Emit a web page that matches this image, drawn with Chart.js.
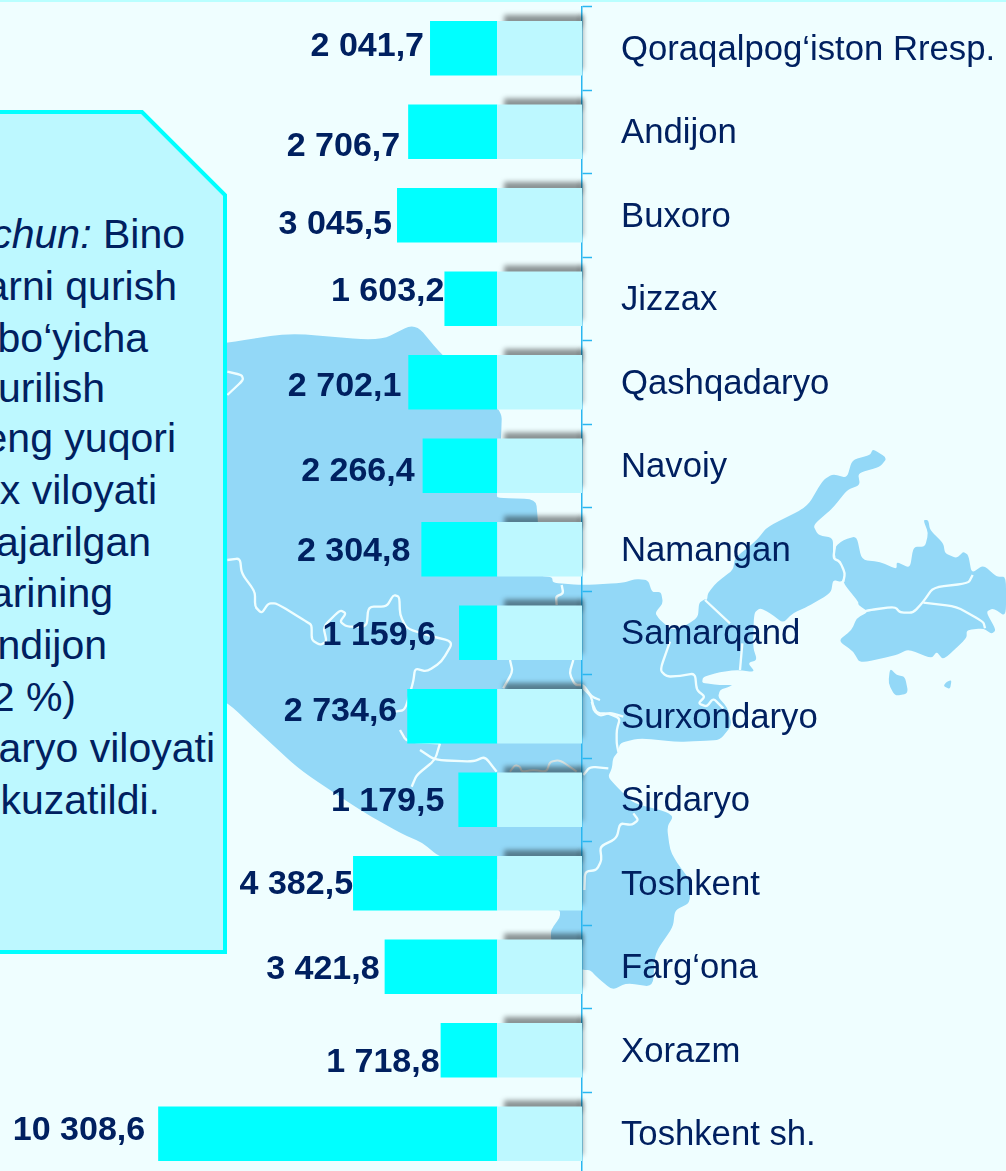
<!DOCTYPE html>
<html>
<head>
<meta charset="utf-8">
<style>
html,body{margin:0;padding:0;width:1006px;height:1171px;overflow:hidden;background:#EFFEFF;font-family:"Liberation Sans",Arial,sans-serif}
#topline{position:absolute;left:0;top:0;width:1006px;height:2px;background:#B9FFFF}
#map{position:absolute;left:0;top:0}
#note span.l{position:absolute;white-space:pre;font-size:41px;line-height:44px;color:#002060;transform:translateY(-50%)}
canvas{position:absolute;left:0;top:0}
</style>
<script src="https://cdn.jsdelivr.net/npm/chart.js@4"></script>
</head>
<body>
<div id="topline"></div>
<svg id="map" width="1006" height="1171" viewBox="0 0 1006 1171">
  <path class="s" fill="#93D8F7" d="M200,347 L225,343 L290,333 L380,341 L415,323 L442,355 L502,410 L501,440 L497,493 L497,498 L536,499 L538,522 L540,576 L552,577 L553,583 L583,585 L623,583 L635,579 L648,580 L652,592 L661,592 L663,603 L655,613 L660,620 L672,630 L687,625 L698,617 L699,603 L705,599 L707,600 L708,593 L717,582 L733,570 L735,558 L757,540 L767,527 L807,507 L823,480 L833,474 L847,478 L852,460 L870,455 L873,449 L887,458 L880,467 L858,473 L860,485 L847,490 L833,508 L813,525 L818,535 L833,538 L833,555 L840,562 L845,573 L842,582 L833,580 L831,593 L807,607 L793,613 L783,623 L770,613 L760,608 L754,613 L753,647 L757,660 L748,663 L755,672 L737,670 L720,672 L703,677 L702,683 L720,685 L733,685 L728,687 L720,690 L718,697 L727,707 L732,725 L720,740 L700,741 L677,742 L640,738 L620,743 L618,752 L613,758 L612,768 L608,777 L617,787 L633,803 L667,812 L673,817 L667,827 L670,850 L677,863 L690,880 L690,903 L675,910 L673,927 L655,953 L653,987 L627,983 L612,990 L597,977 L590,970 L583,970 L555,960 L551,939 L551,930 L560,917 L560,910 L500,880 L438,856 L423,843 L400,833 L360,810 L300,770 L262,735 L228,703 L200,690 Z"/>
  <g transform="translate(580,430) scale(0.33333)">
    <path class="s" fill="#93D8F7" d="M765,350 L790,330 L830,318 L845,390 L900,395 L950,418 L950,395 L990,415 L1000,350 L1035,350 L1045,310 L1030,270 L1045,270 L1050,300 L1090,340 L1095,370 L1130,385 L1150,365 L1165,375 L1175,430 L1210,405 L1250,440 L1278,440 L1278,560 L1240,535 L1218,545 L1248,600 L1235,612 L1210,595 L1160,600 L1160,625 L1090,690 L1070,665 L1055,685 L985,658 L950,675 L840,700 L820,665 L775,632 L815,600 L830,565 L865,545 L835,525 L835,515 L790,460 L795,430 L765,385 Z"/>
    <path class="s" fill="#93D8F7" d="M930,715 L950,735 L975,740 L985,790 L945,798 L925,760 Z"/>
    <path class="s" fill="#93D8F7" d="M1100,755 L1115,750 L1110,778 L1090,768 Z"/>
    <path class="s" fill="none" stroke="#EFFEFF" stroke-width="7" d="M765,345 L760,385 L780,395 L795,430 L790,455"/>
    <path class="s" fill="none" stroke="#EFFEFF" stroke-width="7" d="M1178,435 L1165,460 L1060,472 L1030,515 L1000,548 L960,548 L945,530 L870,540 L850,545"/>
    <path class="s" fill="none" stroke="#EFFEFF" stroke-width="7" d="M1030,518 L1130,530 L1210,575 L1215,595"/>
    <path fill="none" stroke="#EFFEFF" stroke-width="7" d="M375,510 L450,580 M480,720 L487,640"/>
    <path class="s" fill="none" stroke="#EFFEFF" stroke-width="7" d="M270,635 L240,720 L260,740 L300,738 L345,730 L350,780 L375,800 L355,820 L380,830 L400,805 L430,835"/>
    <path class="s" fill="none" stroke="#EFFEFF" stroke-width="7" d="M5,770 L35,800 L40,840 L60,858 L90,848 L130,860"/>
  </g>
  <g transform="translate(220,320) scale(0.33333)">
    <path class="s" fill="none" stroke="#EFFEFF" stroke-width="7" d="M22,155 L65,165 L70,180 L22,225"/>
    <path class="s" fill="none" stroke="#EFFEFF" stroke-width="7" d="M22,720 L60,715 L65,760 L105,815 L105,860 L125,880 L145,850 L170,850 L260,905 L275,915 L275,960 L300,975 L320,965 L310,920 L360,870 L378,880 L360,905 L380,920 L440,920 L445,860 L500,860 L520,825 L538,830 L540,885 L560,925 L620,945 L700,965 L665,1025 L620,1055 L585,1045 L580,1085 L555,1170 L525,1175"/>
    <path class="s" fill="none" stroke="#EFFEFF" stroke-width="7" d="M870,1020 L878,1055 L850,1105"/>
    <path class="s" fill="none" stroke="#EFFEFF" stroke-width="7" d="M1025,795 L1030,820 L1008,830 L1010,855"/>
    <path class="s" fill="none" stroke="#EFFEFF" stroke-width="7" d="M1060,1020 L1048,1060 L1065,1095 L1090,1095 L1115,1130 L1140,1140"/>
  </g>
  <g transform="translate(400,700) scale(0.33333)">
    <path class="s" fill="none" stroke="#EFFEFF" stroke-width="7" d="M0,90 L20,125 L120,130"/>
    <path class="s" fill="none" stroke="#EFFEFF" stroke-width="7" d="M120,130 L105,180 L50,225 L35,260"/>
    <path class="s" fill="none" stroke="#EFFEFF" stroke-width="7" d="M60,150 L105,180 L220,185 L255,170 L290,215"/>
    <path class="s" fill="none" stroke="#EFFEFF" stroke-width="7" d="M550,225 L570,200 L625,205"/>
    <path class="s" fill="none" stroke="#EFFEFF" stroke-width="7" d="M700,340 L715,360 L695,375 L660,370 L650,415 L600,440 L605,480 L590,510 L555,515 L553,570"/>
    <path class="s" fill="none" stroke="#EFFEFF" stroke-width="7" d="M575,5 L590,40 L625,40 L660,55 L650,90 L650,130 L655,155"/>
    <path class="s" fill="none" stroke="#D9E6E6" stroke-width="6" d="M330,215 L345,195 L360,200 L365,215 L400,210 L440,215 L450,185 L480,180 L530,215"/>
  </g>
  <path fill="#BDF8FF" stroke="#00FFFF" stroke-width="4" d="M-10,112 L142,112 L225,195 L225,952 L-10,952 Z"/>
</svg>
<div id="note"></div>
<canvas id="chart" width="1006" height="1176"></canvas>
<script>
const categories = ["Qoraqalpog‘iston Rresp.","Andijon","Buxoro","Jizzax","Qashqadaryo","Navoiy","Namangan","Samarqand","Surxondaryo","Sirdaryo","Toshkent","Farg‘ona","Xorazm","Toshkent sh."];
const builtValues = [2041.7,2706.7,3045.5,1603.2,2702.1,2266.4,2304.8,1159.6,2734.6,1179.5,4382.5,3421.8,1718.8,10308.6];
const bandValues = [2580,2580,2580,2580,2580,2580,2580,2580,2580,2580,2580,2580,2580,2580];
const labelGap = [6,8,5,0,7,8,11,23,10,14,0,5,1,13];
const labelShift = [-2,14.5,9.5,-7.5,4,5.5,2.5,2.5,-4.5,1.5,1.5,2.5,12.5,-3.5];
const noteLines = [
  [[ "chun: ", true ], [ "Bino", false ]],
  [[ "arni qurish", false ]],
  [[ "bo‘yicha", false ]],
  [[ "urilish", false ]],
  [[ "eng yuqori", false ]],
  [[ "x viloyati", false ]],
  [[ "ajarilgan", false ]],
  [[ "arining", false ]],
  [[ "ndijon", false ]],
  [[ "2 %)", false ]],
  [[ "aryo viloyati", false ]],
  [[ "kuzatildi.", false ]]
];
const noteRight = [185,177,148,105,176,157,151,113,107,76,215,160];
const noteY = [234,286,338,388,438,490,542,593,645,697,748,800];

// round the corners of the traced background map
document.querySelectorAll('path.s').forEach(p=>{
  const d = p.getAttribute('d'), closed = /Z\s*$/.test(d);
  const pts = d.replace(/[MLZ]/g,' ').trim().split(/\s+/).map(a=>a.split(',').map(Number));
  const at = (a,b,t)=>[a[0]+(b[0]-a[0])*t, a[1]+(b[1]-a[1])*t].join(',');
  const n = pts.length, f = 0.3;
  let out;
  if(closed){
    out = 'M'+at(pts[n-1],pts[0],1-f);
    pts.forEach((q,i)=>{ const nx = pts[(i+1)%n]; out += ' Q'+q.join(',')+' '+at(q,nx,f)+' L'+at(q,nx,1-f); });
    out += ' Z';
  } else {
    out = 'M'+pts[0].join(',')+' L'+at(pts[0],pts[1],1-f);
    for(let i=1;i<n-1;i++){ out += ' Q'+pts[i].join(',')+' '+at(pts[i],pts[i+1],f)+' L'+at(pts[i],pts[i+1],1-f); }
    out += ' L'+pts[n-1].join(',');
  }
  p.setAttribute('d',out);
});

const note = document.getElementById('note');
noteLines.forEach((parts,i)=>{
  const s = document.createElement('span');
  s.className = 'l';
  s.style.right = (1006-noteRight[i])+'px';
  s.style.top = noteY[i]+'px';
  parts.forEach(([t,it])=>{
    const p = document.createElement(it?'i':'span');
    p.textContent = t;
    s.appendChild(p);
  });
  note.appendChild(s);
});

const fmt = v => v.toFixed(1).replace('.',',').replace(/\B(?=(\d{3})+(?!\d))/g,' ');

const shadowPlugin = {
  id:'barShadow',
  beforeDatasetsDraw(chart){
    const ctx = chart.ctx;
    ctx.save();
    ctx.filter = 'blur(2.5px)';
    ctx.fillStyle = 'rgba(0,0,0,0.42)';
    chart.getDatasetMeta(0).data.forEach(el=>{
      const p = el.getProps(['x','y','base','height'],true);
      const top = p.y-p.height/2;
      ctx.fillRect(p.x+7, top-6, p.base-p.x-7, 12);
      ctx.fillRect(p.base-2, top-6, 3, p.height);
    });
    ctx.restore();
  }
};
const valuePlugin = {
  id:'valueLabels',
  afterDatasetsDraw(chart){
    const ctx = chart.ctx;
    ctx.save();
    ctx.font = 'bold 34px "Liberation Sans"';
    ctx.fillStyle = '#002060';
    ctx.textAlign = 'right';
    ctx.textBaseline = 'middle';
    chart.getDatasetMeta(1).data.forEach((el,i)=>{
      const p = el.getProps(['x','y'],true);
      ctx.fillText(fmt(builtValues[i]), p.x-labelGap[i], p.y+labelShift[i]);
    });
    ctx.restore();
  }
};

new Chart(document.getElementById('chart'),{
  type:'bar',
  data:{labels:categories,datasets:[
    {data:bandValues,backgroundColor:'#BDF8FF',borderWidth:0},
    {data:builtValues,backgroundColor:'#00FFFF',borderWidth:0}
  ]},
  plugins:[shadowPlugin,valuePlugin],
  options:{
    indexAxis:'y',responsive:false,animation:false,
    barPercentage:1,categoryPercentage:0.653,
    layout:{padding:{left:154.5,top:6.5,right:0,bottom:0.5}},
    plugins:{legend:{display:false},tooltip:{enabled:false},title:{display:false}},
    scales:{
      x:{display:false,stacked:true,reverse:true,min:0,max:13000},
      y:{
        position:'right',stacked:true,z:1,
        afterFit(s){s.width=424;s.paddingTop=0;s.paddingBottom=0;},
        grid:{drawOnChartArea:false,drawTicks:true,tickLength:10,tickColor:'#29B6F0',tickWidth:1.5},
        border:{display:true,color:'#29B6F0',width:1.5},
        ticks:{color:'#002060',padding:29,labelOffset:2,crossAlign:'near',autoSkip:false,font:{family:'"Liberation Sans"',size:34.7}}
      }
    }
  }
});
</script>
</body>
</html>
